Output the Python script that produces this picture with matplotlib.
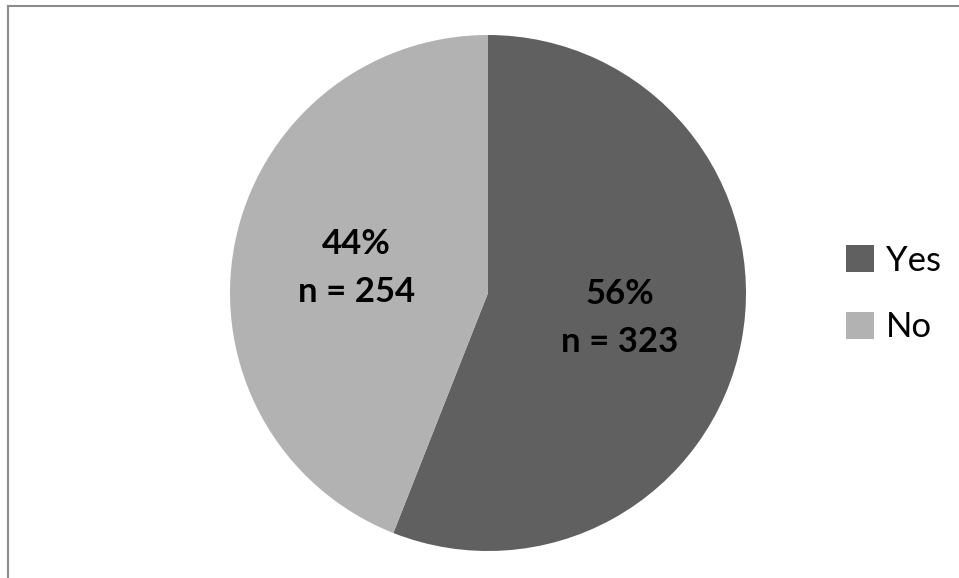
import matplotlib
matplotlib.use("Agg")
import matplotlib.pyplot as plt
from matplotlib.lines import Line2D

# --- data ---------------------------------------------------------
labels = ["Yes", "No"]
counts = [323, 254]
colors = ["#606060", "#b2b2b2"]

plt.rcParams['font.family'] = ['Lato', 'DejaVu Sans']

fig = plt.figure(figsize=(9.59, 5.78), dpi=100)

# pie axes: centre ~(488, 293) px, radius ~258 px
r = 258
ax = fig.add_axes([(488 - r) / 959, (578 - 293 - r) / 578, 2 * r / 959, 2 * r / 578])

total = sum(counts)

def fmt(pct):
    n = int(round(pct * total / 100.0))
    return "%d%%\nn = %d" % (round(pct), n)

wedges, texts, autotexts = ax.pie(counts, colors=colors, startangle=90,
                                  counterclock=False, autopct=fmt,
                                  pctdistance=0.52,
                                  wedgeprops=dict(linewidth=0))
for t in autotexts:
    t.set_fontsize(25)
    t.set_fontweight("bold")
    t.set_color("black")
    t.set_linespacing(1.6)

ax.set_xlim(-1, 1)
ax.set_ylim(-1, 1)

fig.legend(wedges, labels, loc="center left", bbox_to_anchor=(846 / 959, 1 - 294 / 578),
           frameon=False, fontsize=25, handlelength=0.8, handleheight=0.8,
           handletextpad=0.35, labelspacing=1.0, borderpad=0, borderaxespad=0)

# outer chart border (top and left visible)
fig.add_artist(Line2D([8 / 959, 8 / 959], [0, 1 - 6 / 578], color="#8c8c8c", lw=1.5,
                      transform=fig.transFigure))
fig.add_artist(Line2D([8 / 959, 1], [1 - 6 / 578, 1 - 6 / 578], color="#8c8c8c", lw=1.5,
                      transform=fig.transFigure))

fig.savefig("out.png", dpi=100)
